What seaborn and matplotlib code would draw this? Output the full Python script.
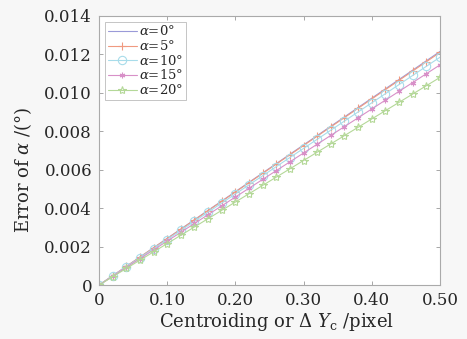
import matplotlib
matplotlib.use("Agg")
import matplotlib.pyplot as plt
import seaborn as sns
import pandas as pd

x_vals = [0.00, 0.02, 0.04, 0.06, 0.08, 0.10, 0.12, 0.14, 0.16, 0.18, 0.20, 0.22, 0.24,
          0.26, 0.28, 0.30, 0.32, 0.34, 0.36, 0.38, 0.40, 0.42, 0.44, 0.46, 0.48, 0.50]

err_a0 = [0, 0.000486, 0.000972, 0.001458, 0.001944, 0.00243, 0.002916, 0.003402, 0.003888,
          0.004374, 0.00486, 0.005346, 0.005832, 0.006318, 0.006804, 0.00729, 0.007776,
          0.008262, 0.008748, 0.009234, 0.00972, 0.010206, 0.010692, 0.011178, 0.011664, 0.01215]
err_a5 = [0, 0.000484, 0.000968, 0.001452, 0.001936, 0.00242, 0.002904, 0.003388, 0.003872,
          0.004356, 0.00484, 0.005324, 0.005808, 0.006292, 0.006776, 0.00726, 0.007744,
          0.008228, 0.008712, 0.009196, 0.00968, 0.010164, 0.010648, 0.011132, 0.011616, 0.0121]
err_a10 = [0, 0.000474, 0.000948, 0.001422, 0.001896, 0.00237, 0.002844, 0.003318, 0.003792,
           0.004266, 0.00474, 0.005214, 0.005688, 0.006162, 0.006636, 0.00711, 0.007584,
           0.008058, 0.008532, 0.009006, 0.00948, 0.009954, 0.010428, 0.010902, 0.011376, 0.01185]
err_a15 = [0, 0.000458, 0.000916, 0.001374, 0.001832, 0.00229, 0.002748, 0.003206, 0.003664,
           0.004122, 0.00458, 0.005038, 0.005496, 0.005954, 0.006412, 0.00687, 0.007328,
           0.007786, 0.008244, 0.008702, 0.00916, 0.009618, 0.010076, 0.010534, 0.010992, 0.01145]
err_a20 = [0, 0.000432, 0.000864, 0.001296, 0.001728, 0.00216, 0.002592, 0.003024, 0.003456,
           0.003888, 0.00432, 0.004752, 0.005184, 0.005616, 0.006048, 0.00648, 0.006912,
           0.007344, 0.007776, 0.008208, 0.00864, 0.009072, 0.009504, 0.009936, 0.010368, 0.0108]

series_labels = [r"$\alpha$=0°", r"$\alpha$=5°", r"$\alpha$=10°", r"$\alpha$=15°", r"$\alpha$=20°"]
x_ticks = [0, 0.10, 0.20, 0.30, 0.40, 0.50]
x_ticklabels = ["0", "0.10", "0.20", "0.30", "0.40", "0.50"]
y_ticks = [0, 0.002, 0.004, 0.006, 0.008, 0.010, 0.012, 0.014]
y_ticklabels = ["0", "0.002", "0.004", "0.006", "0.008", "0.010", "0.012", "0.014"]

sns.set_theme(style="white")
plt.rcParams["font.family"] = ["DejaVu Serif"]
plt.rcParams["mathtext.fontset"] = "dejavuserif"

fig = plt.figure(figsize=(4.67, 3.39), dpi=100, facecolor="#f7f7f7")
ax = fig.add_axes([0.212, 0.159, 0.730, 0.794])
ax.set_facecolor("white")

colors = ["#9a9ad8", "#f09a80", "#a8dcea", "#d890c8", "#b4d898"]
markers = [None, "+", "o", (6, 2, 0), "*"]
msizes = [0, 6, 6, 4, 6]
series = [err_a0, err_a5, err_a10, err_a15, err_a20]

for ys, lab, c, m, ms in zip(series, series_labels, colors, markers, msizes):
    df = pd.DataFrame({"x": x_vals, "y": ys})
    kw = {}
    if m is not None:
        kw = dict(marker=m, markersize=ms, markerfacecolor="none", markeredgecolor=c,
                  markeredgewidth=0.8)
    sns.lineplot(data=df, x="x", y="y", ax=ax, color=c, linewidth=0.8, label=lab, **kw)

ax.set_xlim(0, 0.5)
ax.set_ylim(0, 0.014)
ax.set_xticks(x_ticks)
ax.set_xticklabels(x_ticklabels)
ax.set_yticks(y_ticks)
ax.set_yticklabels(y_ticklabels)
ax.tick_params(direction="in", length=3, width=0.6, color="#999999", labelsize=12,
               top=True, right=True, bottom=True, left=True, pad=5)
for sp in ax.spines.values():
    sp.set_color("#aaaaaa")
    sp.set_linewidth(0.8)

ax.set_xlabel(r"Centroiding or $\Delta$ $Y_{\rm c}$ /pixel", fontsize=13)
ax.set_ylabel(r"Error of $\alpha$ /(°)", fontsize=13)
ax.yaxis.set_label_coords(-0.19, 0.43)
ax.xaxis.set_label_coords(0.52, -0.095)

leg = ax.legend(loc="upper left", bbox_to_anchor=(0.018, 0.978), fontsize=9.5,
                frameon=True, fancybox=False, handlelength=2.2, handletextpad=0.2,
                labelspacing=0.05, borderpad=0.2, borderaxespad=0.0)
leg.get_frame().set_edgecolor("#aaaaaa")
leg.get_frame().set_linewidth(0.6)

fig.savefig("out.png", dpi=100, facecolor=fig.get_facecolor())
